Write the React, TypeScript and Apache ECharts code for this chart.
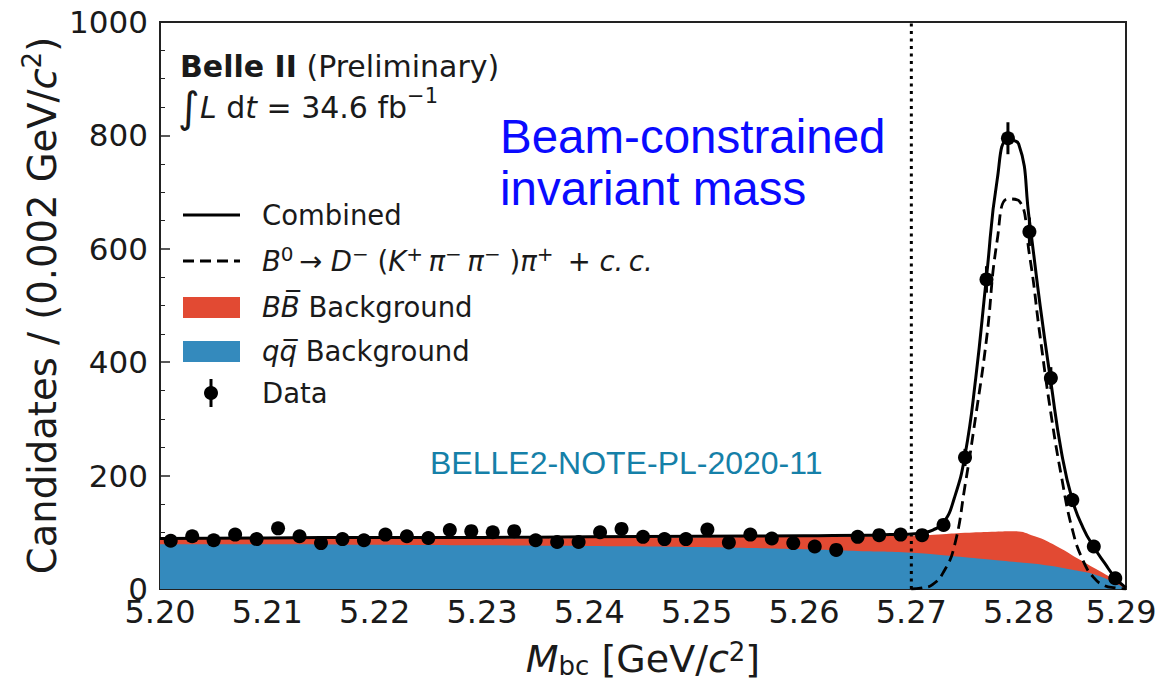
import React, { useEffect, useRef } from "react";
import * as echarts from "echarts";

// ---------- data ----------
const binCenters = [
  5.201, 5.203, 5.205, 5.207, 5.209, 5.211, 5.213, 5.215, 5.217, 5.219,
  5.221, 5.223, 5.225, 5.227, 5.229, 5.231, 5.233, 5.235, 5.237, 5.239,
  5.241, 5.243, 5.245, 5.247, 5.249, 5.251, 5.253, 5.255, 5.257, 5.259,
  5.261, 5.263, 5.265, 5.267, 5.269, 5.271, 5.273, 5.275, 5.277, 5.279,
  5.281, 5.283, 5.285, 5.287, 5.289,
];
const counts = [
  85, 93, 86, 96, 88, 107, 93, 81, 88, 86,
  96, 93, 90, 104, 102, 100, 102, 86, 83, 83,
  100, 106, 92, 88, 88, 105, 82, 96, 89, 81,
  75, 69, 92, 95, 96, 95, 113, 232, 546, 795,
  630, 372, 157, 75, 19,
];
const countErrors = [
  9.2, 9.6, 9.3, 9.8, 9.4, 10.3, 9.6, 9.0, 9.4, 9.3,
  9.8, 9.6, 9.5, 10.2, 10.1, 10.0, 10.1, 9.3, 9.1, 9.1,
  10.0, 10.3, 9.6, 9.4, 9.4, 10.2, 9.1, 9.8, 9.4, 9.0,
  8.7, 8.3, 9.6, 9.7, 9.8, 9.7, 10.6, 15.2, 23.4, 28.2,
  25.1, 19.3, 12.5, 8.7, 4.4,
];

// Combined fit (solid)
const combinedX = [
  5.2, 5.21, 5.22, 5.23, 5.24, 5.25, 5.26, 5.266, 5.267, 5.268, 5.269,
  5.27, 5.271, 5.272, 5.273, 5.274, 5.275, 5.276, 5.277, 5.278, 5.279,
  5.28, 5.281, 5.282, 5.283, 5.284, 5.285, 5.286, 5.287, 5.288, 5.289, 5.29,
];
const combinedY = [
  89, 90, 91, 91, 92, 93, 94, 95, 95, 96, 96,
  97, 99, 104, 117, 160, 236, 372, 550, 722, 792,
  785, 650, 500, 365, 240, 157, 108, 74, 46, 20, 2,
];

// Signal B0 -> D-(K+ pi- pi-) pi+ + c.c. (dashed)
const signalX = [
  5.27, 5.271, 5.272, 5.273, 5.274, 5.275, 5.276, 5.277, 5.278, 5.279,
  5.28, 5.281, 5.282, 5.283, 5.284, 5.285, 5.286, 5.287, 5.288, 5.289, 5.29,
];
const signalY = [
  0, 2, 8, 30, 75, 182, 305, 440, 615, 688,
  685, 590, 445, 310, 197, 105, 50, 20, 6, 2, 0,
];

// BB background stacked on top of qq (upper edge of red band)
const bbTopX = [
  5.2, 5.21, 5.22, 5.23, 5.24, 5.25, 5.26, 5.265, 5.27, 5.2725, 5.275,
  5.2775, 5.2795, 5.2815, 5.2835, 5.2855, 5.2875, 5.2895, 5.29,
];
const bbTopY = [
  88, 88, 89, 89, 90, 91, 92, 93, 94, 96, 99,
  101, 102, 93, 76, 54, 32, 9, 0,
];

// qq background (upper edge of blue band)
const qqX = [
  5.2, 5.21, 5.22, 5.23, 5.24, 5.25, 5.26, 5.265, 5.27, 5.275, 5.28,
  5.2825, 5.285, 5.2875, 5.29,
];
const qqY = [79, 79, 78, 77, 76, 74, 70, 67, 64, 56, 47, 42, 34, 23, 0];

const cutX = 5.27;
const xMin = 5.2;
const xMax = 5.29;
const xStep = 0.01;
const yMin = 0;
const yMax = 1000;
const yStep = 200;

// ---------- styling ----------
const FONT = "DejaVu Sans";
const ANNO = "Liberation Sans";
const INK = "#1a1a1a";
const RED = "#E24A33";
const BLUE = "#348ABD";

const zip = (xs: number[], ys: number[]) => xs.map((x, i) => [x, ys[i]]);

export default function App() {
  const ref = useRef<HTMLDivElement>(null);

  useEffect(() => {
    document.body.style.margin = "0";
    if (!ref.current) return;
    const chart = echarts.init(ref.current, undefined, { renderer: "svg" });

    const legendFont = 27.5;
    const legText = (y: number, text: string, rich: any = {}) => ({
      type: "text",
      x: 262,
      y,
      style: {
        text,
        fontSize: legendFont,
        fontFamily: FONT,
        fill: INK,
        verticalAlign: "middle",
        align: "left",
        rich,
      },
    });
    const mathRich = {
      n: { fontSize: legendFont, fontFamily: FONT, fill: INK, lineHeight: 34 },
      i: { fontSize: legendFont, fontFamily: FONT, fontStyle: "italic", fill: INK, lineHeight: 34 },
      sup: { fontSize: 20, fontFamily: FONT, fill: INK, verticalAlign: "top", lineHeight: 34 },
    };
    const TS = "\u2009";

    const nameRichY = {
      i: { fontFamily: FONT, fontSize: 38.5, fontStyle: "italic", color: INK, lineHeight: 46 },
      sup: { fontFamily: FONT, fontSize: 26, color: INK, verticalAlign: "top", lineHeight: 46 },
    };
    const nameRichX = {
      i: { fontFamily: FONT, fontSize: 38, fontStyle: "italic", color: INK, lineHeight: 40 },
      sub: { fontFamily: FONT, fontSize: 26, color: INK, verticalAlign: "bottom", lineHeight: 40 },
      sup: { fontFamily: FONT, fontSize: 26, color: INK, verticalAlign: "top", lineHeight: 40 },
    };

    const option: any = {
      animation: false,
      backgroundColor: "#ffffff",
      grid: {
        left: 160,
        right: 33,
        top: 22,
        bottom: 91,
        containLabel: false,
        outerBoundsMode: "none",
        show: true,
        borderColor: "#222",
        borderWidth: 2,
        backgroundColor: "transparent",
      },
      xAxis: {
        type: "value",
        min: xMin,
        max: xMax,
        interval: xStep,
        name: "{i|M}{sub|bc} [GeV/{i|c}{sup|2}]",
        nameLocation: "middle",
        nameGap: 50,
        nameMoveOverlap: false,
        nameTextStyle: {
          fontFamily: FONT,
          fontSize: 38,
          color: INK,
          lineHeight: 40,
          rich: nameRichX,
        },
        axisLine: { show: true, lineStyle: { color: "#222", width: 2 } },
        axisTick: { show: true, inside: true, length: 9, lineStyle: { color: "#222", width: 1.5 } },
        minorTick: { show: true, splitNumber: 5, length: 4, lineStyle: { color: "#222", width: 1 } },
        splitLine: { show: false },
        axisLabel: {
          formatter: (v: number) =>
            Math.abs(v - xMax) < 1e-9 ? `{last|${v.toFixed(2)}}` : v.toFixed(2),
          fontFamily: FONT,
          fontSize: 32,
          color: INK,
          margin: 7,
          rich: {
            last: { fontFamily: FONT, fontSize: 32, color: INK, padding: [0, 10, 0, 0] },
          },
        },
      },
      yAxis: {
        type: "value",
        min: yMin,
        max: yMax,
        interval: yStep,
        name: "Candidates / (0.002 GeV/{i|c}{sup|2})",
        nameLocation: "middle",
        nameGap: 95,
        nameMoveOverlap: false,
        nameRotate: 90,
        nameTextStyle: {
          fontFamily: FONT,
          fontSize: 38.5,
          color: INK,
          lineHeight: 46,
          rich: nameRichY,
        },
        axisLine: { show: true, lineStyle: { color: "#222", width: 2 } },
        axisTick: { show: true, inside: true, length: 10, lineStyle: { color: "#222", width: 1.5 } },
        minorTick: { show: true, splitNumber: 4, length: 5, lineStyle: { color: "#222", width: 1 } },
        splitLine: { show: false },
        axisLabel: {
          formatter: (v: number) => String(v),
          fontFamily: FONT,
          fontSize: 31,
          color: INK,
          margin: 12,
        },
      },
      series: [
        {
          type: "line",
          name: "BB Background",
          data: zip(bbTopX, bbTopY),
          smooth: 0.5,
          symbol: "none",
          lineStyle: { width: 0 },
          areaStyle: { color: RED, opacity: 1 },
          silent: true,
          z: 1,
        },
        {
          type: "line",
          name: "qq Background",
          data: zip(qqX, qqY),
          smooth: 0.5,
          symbol: "none",
          lineStyle: { width: 0 },
          areaStyle: { color: BLUE, opacity: 1 },
          silent: true,
          z: 2,
        },
        {
          type: "line",
          name: "cut",
          data: [
            [cutX, yMin],
            [cutX, yMax],
          ],
          symbol: "none",
          lineStyle: { color: "#000", width: 3, type: [3, 4.5] },
          silent: true,
          z: 3,
        },
        {
          type: "line",
          name: "Signal",
          data: zip(signalX, signalY),
          smooth: 0.5,
          symbol: "none",
          lineStyle: { color: "#000", width: 2.8, type: [11, 6] },
          silent: true,
          z: 4,
        },
        {
          type: "line",
          name: "Combined",
          data: zip(combinedX, combinedY),
          smooth: 0.5,
          symbol: "none",
          lineStyle: { color: "#000", width: 3 },
          silent: true,
          z: 5,
        },
        {
          type: "custom",
          name: "Data errors",
          data: binCenters.map((x, i) => [x, counts[i], countErrors[i]]),
          encode: { x: 0, y: 1 },
          renderItem: (params: any, api: any) => {
            const x = api.value(0);
            const y = api.value(1);
            const e = api.value(2);
            const p1 = api.coord([x, y - e]);
            const p2 = api.coord([x, y + e]);
            return {
              type: "line",
              shape: { x1: p1[0], y1: p1[1], x2: p2[0], y2: p2[1] },
              style: { stroke: "#000", lineWidth: 3 },
            };
          },
          silent: true,
          z: 6,
        },
        {
          type: "scatter",
          name: "Data",
          data: zip(binCenters, counts),
          symbol: "circle",
          symbolSize: 14,
          itemStyle: { color: "#000", opacity: 1 },
          silent: true,
          z: 7,
        },
      ],
      graphic: [
        // header
        {
          type: "text",
          x: 180,
          y: 66,
          style: {
            text: "{b|Belle II} (Preliminary)",
            fontSize: 30,
            fontFamily: FONT,
            fill: INK,
            verticalAlign: "middle",
            rich: {
              b: { fontSize: 30, fontFamily: FONT, fontWeight: "bold", fill: INK },
            },
          },
        },
        {
          type: "text",
          x: 178,
          y: 107,
          style: {
            text: "{int|∫}{i|L} d{i|t} = 34.6 fb{sup|−1}",
            fontSize: 30,
            fontFamily: FONT,
            fill: INK,
            verticalAlign: "middle",
            rich: {
              int: { fontSize: 42, fontFamily: FONT, fill: INK },
              i: { fontSize: 30, fontFamily: FONT, fontStyle: "italic", fill: INK },
              sup: { fontSize: 21, fontFamily: FONT, fill: INK, verticalAlign: "top", lineHeight: 44 },
            },
          },
        },
        // annotations
        {
          type: "text",
          x: 500,
          y: 136,
          style: {
            text: "Beam-constrained",
            fontSize: 47.5,
            fontFamily: ANNO,
            fill: "#0a0aff",
            verticalAlign: "middle",
          },
        },
        {
          type: "text",
          x: 500,
          y: 188,
          style: {
            text: "invariant mass",
            fontSize: 47.5,
            fontFamily: ANNO,
            fill: "#0a0aff",
            verticalAlign: "middle",
          },
        },
        {
          type: "text",
          x: 430,
          y: 463,
          style: {
            text: "BELLE2-NOTE-PL-2020-11",
            fontSize: 32,
            fontFamily: ANNO,
            fill: "#1580a8",
            verticalAlign: "middle",
          },
        },
        // legend
        { type: "line", shape: { x1: 183, y1: 215, x2: 240, y2: 215 }, style: { stroke: "#000", lineWidth: 3 } },
        legText(215, "Combined"),
        {
          type: "line",
          shape: { x1: 183, y1: 261, x2: 240, y2: 261 },
          style: { stroke: "#000", lineWidth: 3, lineDash: [11, 6] },
        },
        legText(
          261,
          `{i|B}{sup|0}{n|${TS}→ }{i|D}{sup|−}{n| (}{i|K}{sup|+}{n|${TS}}{i|π}{sup|−}{n|${TS}}{i|π}{sup|−}{n| )}{i|π}{sup|+}{n|${TS} + }{i|c.${TS}c.}`,
          mathRich
        ),
        { type: "rect", shape: { x: 183, y: 297, width: 57, height: 21 }, style: { fill: RED } },
        legText(307, "{i|BB\u0305} Background", mathRich),
        { type: "rect", shape: { x: 183, y: 341, width: 57, height: 21 }, style: { fill: BLUE } },
        legText(351, "{i|qq\u0305} Background", mathRich),
        { type: "line", shape: { x1: 211, y1: 379, x2: 211, y2: 407 }, style: { stroke: "#000", lineWidth: 3 } },
        { type: "circle", shape: { cx: 211, cy: 393, r: 7 }, style: { fill: "#000" } },
        legText(393, "Data"),
      ],
    };

    chart.setOption(option);
    return () => chart.dispose();
  }, []);

  return <div ref={ref} style={{ width: 1159, height: 680 }} />;
}
